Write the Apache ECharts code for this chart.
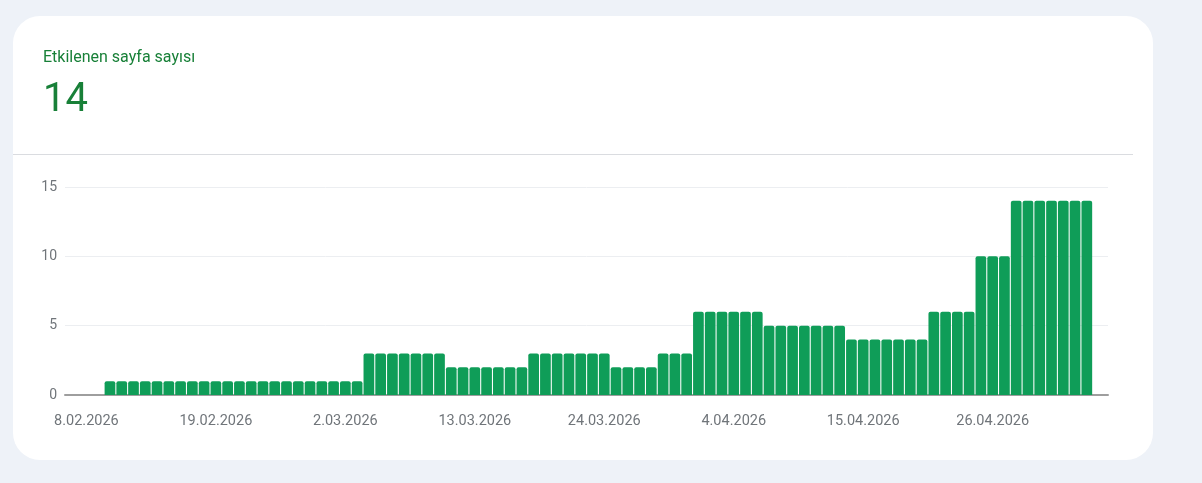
<!DOCTYPE html>
<html>
<head>
<meta charset="utf-8">
<script src="https://cdn.jsdelivr.net/npm/echarts@6/dist/echarts.min.js"></script>
<style>
  html, body { margin: 0; padding: 0; width: 1202px; height: 483px; background: #eef2f8; overflow: hidden; font-family: Roboto, "Noto Sans", sans-serif; }
  #card { position: absolute; left: 13px; top: 16px; width: 1140px; height: 444px; background: #fff; border-radius: 27px; }
  #divider { position: absolute; left: 13px; top: 154px; width: 1120px; height: 1px; background: #dadce0; }
  #chart { position: absolute; left: 0; top: 0; width: 1202px; height: 483px; }
</style>
</head>
<body>
<div id="card"></div>
<div id="divider"></div>
<div id="chart"></div>
<script>
// ---- data ----
const titleText = 'Etkilenen sayfa sayısı';
const currentValue = '14';
const dates = [
  '8.02.2026','9.02.2026','10.02.2026','11.02.2026','12.02.2026','13.02.2026','14.02.2026','15.02.2026',
  '16.02.2026','17.02.2026','18.02.2026','19.02.2026','20.02.2026','21.02.2026','22.02.2026','23.02.2026',
  '24.02.2026','25.02.2026','26.02.2026','27.02.2026','28.02.2026',
  '1.03.2026','2.03.2026','3.03.2026','4.03.2026','5.03.2026','6.03.2026','7.03.2026','8.03.2026',
  '9.03.2026','10.03.2026','11.03.2026','12.03.2026','13.03.2026','14.03.2026','15.03.2026','16.03.2026',
  '17.03.2026','18.03.2026','19.03.2026','20.03.2026','21.03.2026','22.03.2026','23.03.2026','24.03.2026',
  '25.03.2026','26.03.2026','27.03.2026','28.03.2026','29.03.2026','30.03.2026','31.03.2026',
  '1.04.2026','2.04.2026','3.04.2026','4.04.2026','5.04.2026','6.04.2026','7.04.2026','8.04.2026',
  '9.04.2026','10.04.2026','11.04.2026','12.04.2026','13.04.2026','14.04.2026','15.04.2026','16.04.2026',
  '17.04.2026','18.04.2026','19.04.2026','20.04.2026','21.04.2026','22.04.2026','23.04.2026','24.04.2026',
  '25.04.2026','26.04.2026','27.04.2026','28.04.2026','29.04.2026','30.04.2026',
  '1.05.2026','2.05.2026','3.05.2026','4.05.2026'
];
const values = [
  0,0,1,1,1,1,1,1,
  1,1,1,1,1,1,1,1,
  1,1,1,1,1,
  1,1,1,3,3,3,3,3,
  3,3,2,2,2,2,2,2,
  2,3,3,3,3,3,3,3,
  2,2,2,2,3,3,3,
  6,6,6,6,6,6,5,5,
  5,5,5,5,5,4,4,4,
  4,4,4,4,6,6,6,6,
  10,10,10,14,14,14,
  14,14,14,14
];
const tickLabels = ['8.02.2026','19.02.2026','2.03.2026','13.03.2026','24.03.2026','4.04.2026','15.04.2026','26.04.2026'];
const yTicks = [0, 5, 10, 15];

// ---- helpers ----
const DAY = 86400000;
function parseDate(s) {
  const p = s.split('.');
  return Date.UTC(+p[2], +p[1] - 1, +p[0]);
}
function fmtDate(t) {
  const d = new Date(t);
  const mm = String(d.getUTCMonth() + 1).padStart(2, '0');
  return d.getUTCDate() + '.' + mm + '.' + d.getUTCFullYear();
}
const firstT = parseDate(dates[0]);
const dayIndex = (s) => Math.round((parseDate(s) - firstT) / DAY);
const seriesData = dates.map((d, i) => [dayIndex(d), values[i]]);
const lastIdx = dayIndex(dates[dates.length - 1]);

const chart = echarts.init(document.getElementById('chart'), null, { renderer: 'canvas' });
chart.setOption({
  animation: false,
  backgroundColor: 'transparent',
  title: [
    { text: titleText, left: 38, top: 45, textStyle: { color: '#188038', fontSize: 16, fontWeight: 'normal', fontFamily: 'Roboto' } },
    { text: currentValue, left: 38, top: 76, textStyle: { color: '#188038', fontSize: 40, fontWeight: 'normal', fontFamily: 'Roboto' } }
  ],
  grid: { left: 65, right: 94, top: 187, bottom: 88, containLabel: false },
  xAxis: {
    type: 'value',
    min: -1.82,
    max: lastIdx + 1.8,
    axisLine: { show: true, lineStyle: { color: '#9e9e9e', width: 2 } },
    axisTick: { show: false },
    splitLine: { show: false },
    axisLabel: {
      customValues: tickLabels.map(dayIndex),
      formatter: (v) => fmtDate(firstT + v * DAY),
      color: '#70757a', fontSize: 14.5, fontFamily: 'Roboto', margin: 19, hideOverlap: false
    }
  },
  yAxis: {
    type: 'value',
    min: yTicks[0], max: yTicks[yTicks.length - 1], interval: 5,
    axisLine: { show: false },
    axisTick: { show: false },
    splitLine: { show: true, lineStyle: { color: '#eceef1', width: 1 } },
    axisLabel: { color: '#70757a', fontSize: 14, fontFamily: 'Roboto', margin: 8 }
  },
  series: [{
    type: 'bar',
    data: seriesData,
    barCategoryGap: '9%',
    itemStyle: { color: '#0f9d58', borderRadius: [2, 2, 0, 0] }
  }]
});
</script>
</body>
</html>
